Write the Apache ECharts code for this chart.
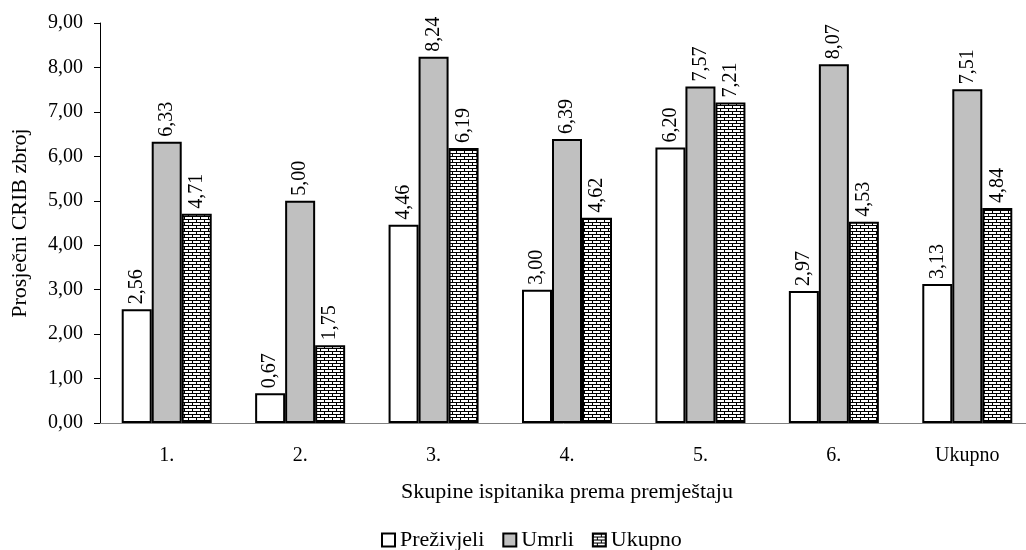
<!DOCTYPE html>
<html>
<head>
<meta charset="utf-8">
<script src="https://cdn.jsdelivr.net/npm/echarts@6/dist/echarts.min.js"></script>
<style>
  html, body { margin: 0; padding: 0; background: #fff; }
  #chart { width: 1026px; height: 550px; }
</style>
</head>
<body>
<div id="chart"></div>
<script>
const categories = ['1.', '2.', '3.', '4.', '5.', '6.', 'Ukupno']
const prezivjeli = [2.56, 0.67, 4.46, 3.00, 6.20, 2.97, 3.13]
const umrli = [6.33, 5.00, 8.24, 6.39, 7.57, 8.07, 7.51]
const ukupno = [4.71, 1.75, 6.19, 4.62, 7.21, 4.53, 4.84]

const font = "'Liberation Serif', 'Times New Roman', serif"
const comma = v => Number(v).toFixed(2).replace('.', ',')

// brick pattern for the "Ukupno" series
const brick = (() => {
    const c = document.createElement('canvas')
    c.width = 8
    c.height = 6
    const ctx = c.getContext('2d')
    ctx.fillStyle = '#fff'
    ctx.fillRect(0, 0, 8, 6)
    ctx.fillStyle = '#000'
    ctx.fillRect(0, 0, 8, 1)
    ctx.fillRect(0, 3, 8, 1)
    ctx.fillRect(0, 0, 1, 3)
    ctx.fillRect(4, 3, 1, 3)
    return c
})()

const label = {
    show: true,
    position: 'top',
    rotate: 90,
    align: 'left',
    verticalAlign: 'middle',
    distance: 5,
    color: '#000',
    fontFamily: font,
    fontSize: 20,
    formatter: p => comma(p.value)
}

const bar = (name, data, color) => ({
    name: name,
    type: 'bar',
    data: data,
    barWidth: 30,
    barGap: '0%',
    itemStyle: { color: color, borderColor: '#000', borderWidth: 2 },
    label: label
})

const chart = echarts.init(document.getElementById('chart'))
chart.setOption({
    animation: false,
    textStyle: { fontFamily: font },
    grid: { left: 100, right: -8, top: 23, bottom: 127, outerBoundsMode: 'none' },
    legend: {
        top: 524,
        left: 376,
        icon: 'rect',
        itemWidth: 13,
        itemHeight: 13,
        itemGap: 18,
        textStyle: { fontFamily: font, fontSize: 22, color: '#000' },
        data: ['Preživjeli', 'Umrli', 'Ukupno']
    },
    xAxis: {
        type: 'category',
        data: categories,
        name: 'Skupine ispitanika prema premještaju',
        nameLocation: 'middle',
        nameGap: 58,
        nameTextStyle: { fontFamily: font, fontSize: 22, color: '#000' },
        axisLine: { lineStyle: { color: '#808080', width: 1 } },
        axisTick: { length: 6, lineStyle: { color: '#000' } },
        axisLabel: { color: '#000', fontFamily: font, fontSize: 20, margin: 23 }
    },
    yAxis: {
        type: 'value',
        min: 0,
        max: 9,
        interval: 1,
        name: 'Prosječni CRIB zbroj',
        nameLocation: 'middle',
        nameGap: 69,
        nameTextStyle: { fontFamily: font, fontSize: 22, color: '#000' },
        axisLine: { show: true, lineStyle: { color: '#000', width: 1 } },
        axisTick: { show: true, length: 6, lineStyle: { color: '#000' } },
        axisLabel: { color: '#000', fontFamily: font, fontSize: 20, margin: 17, formatter: v => comma(v) },
        splitLine: { show: false }
    },
    series: [
        bar('Preživjeli', prezivjeli, '#fff'),
        bar('Umrli', umrli, '#c0c0c0'),
        bar('Ukupno', ukupno, { image: brick, repeat: 'repeat' })
    ]
})
</script>
</body>
</html>
